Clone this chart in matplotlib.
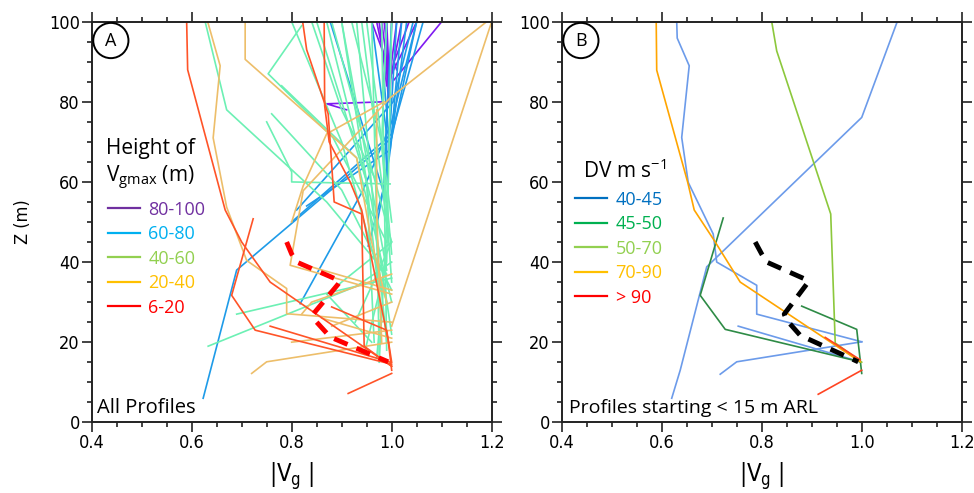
import matplotlib
matplotlib.use('Agg')
import matplotlib.pyplot as plt
from matplotlib.lines import Line2D
from matplotlib.patches import Circle
from matplotlib.ticker import MultipleLocator

# ---- panel A : all profiles, grouped by height of Vg max  (|Vg| list, Z list)
prof_80_100 = [
    ([0.99, 0.983, 0.87, 0.91], [100, 80, 79.5, 78]),
    ([1.10, 1.005], [100, 85.5]),
    ([0.96, 0.99, 0.995], [100, 90, 82]),
    ([0.975, 0.99], [100, 84]),
    ([1.0, 0.995], [100, 82]),
    ([1.02, 0.998], [100, 86]),
    ([1.035, 1.005, 1.01], [100, 90, 88]),
    ([0.985, 0.99, 0.995], [100, 94, 80]),
    ([1.05, 1.02, 1.0], [100, 92, 87]),
    ([0.97, 0.99, 0.993], [100, 88, 81]),
    ([0.99, 0.997], [100, 81]),
    ([1.01, 1.0, 0.996], [100, 90, 80]),
    ([0.98, 0.995], [100, 86]),
]
prof_60_80 = [
    ([1.05, 1.0, 0.877, 0.69, 0.623], [100, 71, 57.8, 38, 6]),
    ([0.877, 0.99], [100, 55]),
    ([1.043, 1.003, 0.81], [100, 80, 53]),
    ([1.063, 1.0, 0.80], [100, 72, 50]),
    ([1.02, 0.997, 0.83], [100, 68, 54]),
    ([1.05, 1.0, 0.943, 0.817], [100, 75, 58, 29.6]),
    ([1.0, 0.983, 0.953], [100, 58, 44]),
    ([0.96, 0.99, 0.99], [100, 72, 62]),
    ([1.03, 0.995, 0.97], [100, 66, 49]),
    ([1.01, 1.0, 0.99], [100, 80, 60]),
    ([0.99, 0.985, 0.995], [100, 85, 70]),
]
prof_40_60 = [
    ([0.627, 0.67, 0.87, 0.99], [100, 78, 55, 37]),
    ([0.82, 0.753, 0.883, 0.99], [99, 87, 71, 45]),
    ([0.76, 0.9, 1.0], [77, 58, 33]),
    ([0.75, 0.8, 0.8, 0.997], [75, 62.5, 60, 59.5]),
    ([0.633, 0.93, 1.0], [19, 34, 40]),
    ([0.69, 1.0], [27, 36]),
    ([0.96, 0.97, 0.975], [100, 50, 17]),
    ([0.98, 0.985, 0.99], [100, 60, 18]),
    ([0.9, 0.95, 0.965], [100, 60, 20]),
    ([0.78, 0.93, 1.0], [84, 66, 30]),
    ([0.93, 0.97, 0.99], [100, 45, 20]),
    ([0.85, 0.95, 0.98], [100, 60, 25]),
    ([1.0, 0.99, 0.945], [100, 40, 17]),
    ([0.88, 1.0, 0.87, 0.96], [100, 45, 32, 20]),
    ([0.99, 0.98, 1.0], [100, 70, 35]),
    ([0.95, 1.0], [100, 50]),
    ([0.927, 1.0], [25, 45]),
    ([0.977, 0.97], [25.5, 16]),
    ([0.92, 0.98, 1.0], [100, 70, 42]),
    ([0.80, 0.90, 0.99], [100, 70, 30]),
    ([0.87, 0.96, 1.0], [100, 55, 22]),
    ([0.94, 0.99, 0.975], [100, 50, 15]),
    ([0.90, 0.99], [100, 38]),
    ([0.84, 0.90, 0.97], [100, 78, 60]),
]
prof_20_40 = [
    ([0.632, 0.657, 0.643, 0.67, 0.71, 0.79, 0.79, 1.0], [100, 89, 71, 53.7, 40.4, 33.4, 27.1, 25]),
    ([0.707, 0.707, 0.93, 0.96, 0.99], [100, 90.6, 66, 45, 30]),
    ([0.72, 0.75, 1.0], [12.2, 15.1, 20]),
    ([1.2, 1.0], [100, 24]),
    ([1.19, 0.997, 0.823, 0.797, 1.0], [100, 81, 57.8, 39.2, 32]),
    ([0.985, 0.87, 0.823, 0.80], [80, 72, 59, 50]),
    ([0.97, 0.97, 0.975, 0.98], [78, 53, 35, 20]),
    ([0.817, 1.0], [39.6, 33]),
    ([0.88, 1.0], [24, 30]),
    ([0.82, 0.84, 1.0], [27, 30, 37]),
    ([0.80, 1.0], [20, 23]),
    ([0.86, 1.0], [26, 21]),
]
prof_6_20 = [
    ([0.59, 0.592, 0.667, 0.70, 0.757, 1.0], [100, 88, 53, 45, 35, 14]),
    ([0.723, 0.68, 0.727, 1.0], [50.8, 31.7, 23, 14.5]),
    ([0.822, 0.83, 0.873, 0.877, 0.885, 0.94, 0.945, 1.0], [100, 93, 77, 70, 55, 52, 19, 14]),
    ([0.865, 0.866, 0.875, 0.917, 0.94, 0.993, 1.0], [100, 79, 70, 60, 53, 20.5, 13]),
    ([0.757, 0.997], [24, 15]),
    ([0.88, 0.99, 1.0], [28.8, 23, 15]),
    ([0.913, 1.0], [7.2, 12.2]),
]
mean_a_v = [0.79, 0.80, 0.81, 0.897, 0.893, 0.843, 0.85, 0.877, 0.993]
mean_a_z = [45, 42, 40, 35.3, 34.5, 27, 25, 21.3, 15.1]

# ---- panel B : profiles starting < 15 m ARL, grouped by DV
prof_40_45 = [
    ([0.63, 0.631, 0.655, 0.64, 0.653, 0.703, 0.71, 0.79, 0.79, 1.0], [100, 95.9, 89, 71.1, 59.9, 47, 40, 34.2, 27, 20.1]),
    ([1.071, 1.0, 0.69, 0.637, 0.62], [100, 76.1, 38.8, 13, 6]),
    ([0.717, 0.75, 1.0], [12, 15.1, 20.1]),
    ([0.753, 0.997], [24, 15.1]),
]
prof_45_50 = [
    ([0.723, 0.677, 0.727, 0.997], [51, 31.7, 23.2, 15.1]),
    ([0.88, 0.99, 1.0], [29, 23.2, 12.2]),
]
prof_50_70 = [
    ([0.82, 0.83, 0.938, 0.947, 1.0], [100, 92.7, 52, 19.8, 15]),
]
prof_70_90 = [
    ([0.589, 0.59, 0.652, 0.665, 0.705, 0.757, 0.997], [100, 87.9, 59.9, 53, 45.4, 35, 15.1]),
]
prof_gt_90 = [
    ([0.913, 1.0], [7, 13]),
    ([0.927, 0.997], [21.2, 15.6]),
]
mean_b_v = [0.787, 0.80, 0.81, 0.893, 0.89, 0.845, 0.85, 0.877, 0.993]
mean_b_z = [45, 42, 40, 35.4, 34.5, 27, 25.5, 21.7, 15.1]

groups_a = [('80-100', prof_80_100, '#7f1af0', '#7030a0'),
            ('60-80', prof_60_80, '#1e9be8', '#00b0f0'),
            ('40-60', prof_40_60, '#6cf0b4', '#92d050'),
            ('20-40', prof_20_40, '#edbe6a', '#ffc000'),
            ('6-20', prof_6_20, '#ff5428', '#ff0000')]
groups_b = [('40-45', prof_40_45, '#6c9bea', '#0070c0'),
            ('45-50', prof_45_50, '#2e8b46', '#00b050'),
            ('50-70', prof_50_70, '#8cc83c', '#92d050'),
            ('70-90', prof_70_90, '#ffa500', '#ffc000'),
            ('> 90', prof_gt_90, '#ff4422', '#ff0000')]

narrow = ['DejaVu Sans']
txtfont = ['Open Sans', 'DejaVu Sans']

fig = plt.figure(figsize=(9.74, 4.93), dpi=100)
ax_a = fig.add_axes([0.0941, 0.1434, 0.4107, 0.8126])
ax_b = fig.add_axes([0.5767, 0.1434, 0.4107, 0.8126])


def style_axes(ax, letter):
    ax.set_xlim(0.4, 1.2)
    ax.set_ylim(0, 100)
    ax.xaxis.set_minor_locator(MultipleLocator(0.05))
    ax.yaxis.set_minor_locator(MultipleLocator(5))
    ax.tick_params(which='both', direction='out', top=True, right=True, width=1.2, color='#222222')
    ax.tick_params(which='major', length=7, pad=1.5)
    ax.tick_params(which='minor', length=3.5)
    ax.set_xticks([0.4, 0.6, 0.8, 1.0, 1.2])
    ax.set_xticklabels(['0.4', '0.6', '0.8', '1.0', '1.2'], family=narrow,
                       fontstretch='condensed', fontsize=13)
    ax.set_yticks([0, 20, 40, 60, 80, 100])
    ax.set_yticklabels(['0', '20', '40', '60', '80', '100'], family=narrow,
                       fontstretch='condensed', fontsize=13)
    for s in ax.spines.values():
        s.set_linewidth(1.4)
        s.set_color('#222222')
    ax.set_xlabel(r'|V$_\mathregular{g}$ |', fontsize=17, family=narrow,
                  fontstretch='condensed', labelpad=6)
    ax.add_patch(Circle((0.048, 0.953), 0.044, transform=ax.transAxes,
                        fill=False, lw=1.4, ec='black', zorder=5))
    ax.text(0.048, 0.953, letter, transform=ax.transAxes, ha='center', va='center',
            fontsize=13, family=txtfont, zorder=6)


def draw_group(ax, groups, order):
    for i in order:
        name, profs, col, _ = groups[i]
        for v, z in profs:
            ax.plot(v, z, color=col, lw=1.2, zorder=2 + i * 0.1)


def add_legend(ax, groups, anchor):
    handles = [Line2D([], [], color=lc, lw=1.6) for _, _, _, lc in groups]
    labels = [g[0] for g in groups]
    leg = ax.legend(handles, labels, loc='upper left', bbox_to_anchor=anchor,
                    frameon=False, handlelength=1.8, handletextpad=0.45, labelspacing=0.36,
                    borderpad=0, borderaxespad=0,
                    prop={'family': txtfont, 'size': 13})
    for t, g in zip(leg.get_texts(), groups):
        t.set_color(g[3])
    return leg


style_axes(ax_a, 'A')
draw_group(ax_a, groups_a, [2, 3, 1, 4, 0])
ax_a.plot(mean_a_v, mean_a_z, color='#ff0000', lw=3.5, dashes=(3, 2), zorder=4)
add_legend(ax_a, groups_a, (0.04, 0.553))
ax_a.text(0.428, 68.3, 'Height of', fontsize=15, family=txtfont, va='center')
ax_a.text(0.428, 61.0, 'V$_\\mathregular{gmax}$ (m)', fontsize=15, family=txtfont, va='center')
ax_a.text(0.41, 3.5, 'All Profiles', fontsize=14.5, family=txtfont, va='center')
ax_a.set_ylabel('Z (m)', fontsize=13, family=narrow, fontstretch='condensed', labelpad=12)

style_axes(ax_b, 'B')
draw_group(ax_b, groups_b, [0, 1, 2, 3, 4])
ax_b.plot(mean_b_v, mean_b_z, color='black', lw=3.5, dashes=(3, 2), zorder=4)
add_legend(ax_b, groups_b, (0.033, 0.578))
ax_b.text(0.443, 62.8, 'DV m s$^\\mathregular{-1}$', fontsize=15, family=txtfont, va='center')
ax_b.text(0.415, 3.5, 'Profiles starting < 15 m ARL', fontsize=14, family=txtfont, va='center')

fig.savefig('out.png', dpi=100)
